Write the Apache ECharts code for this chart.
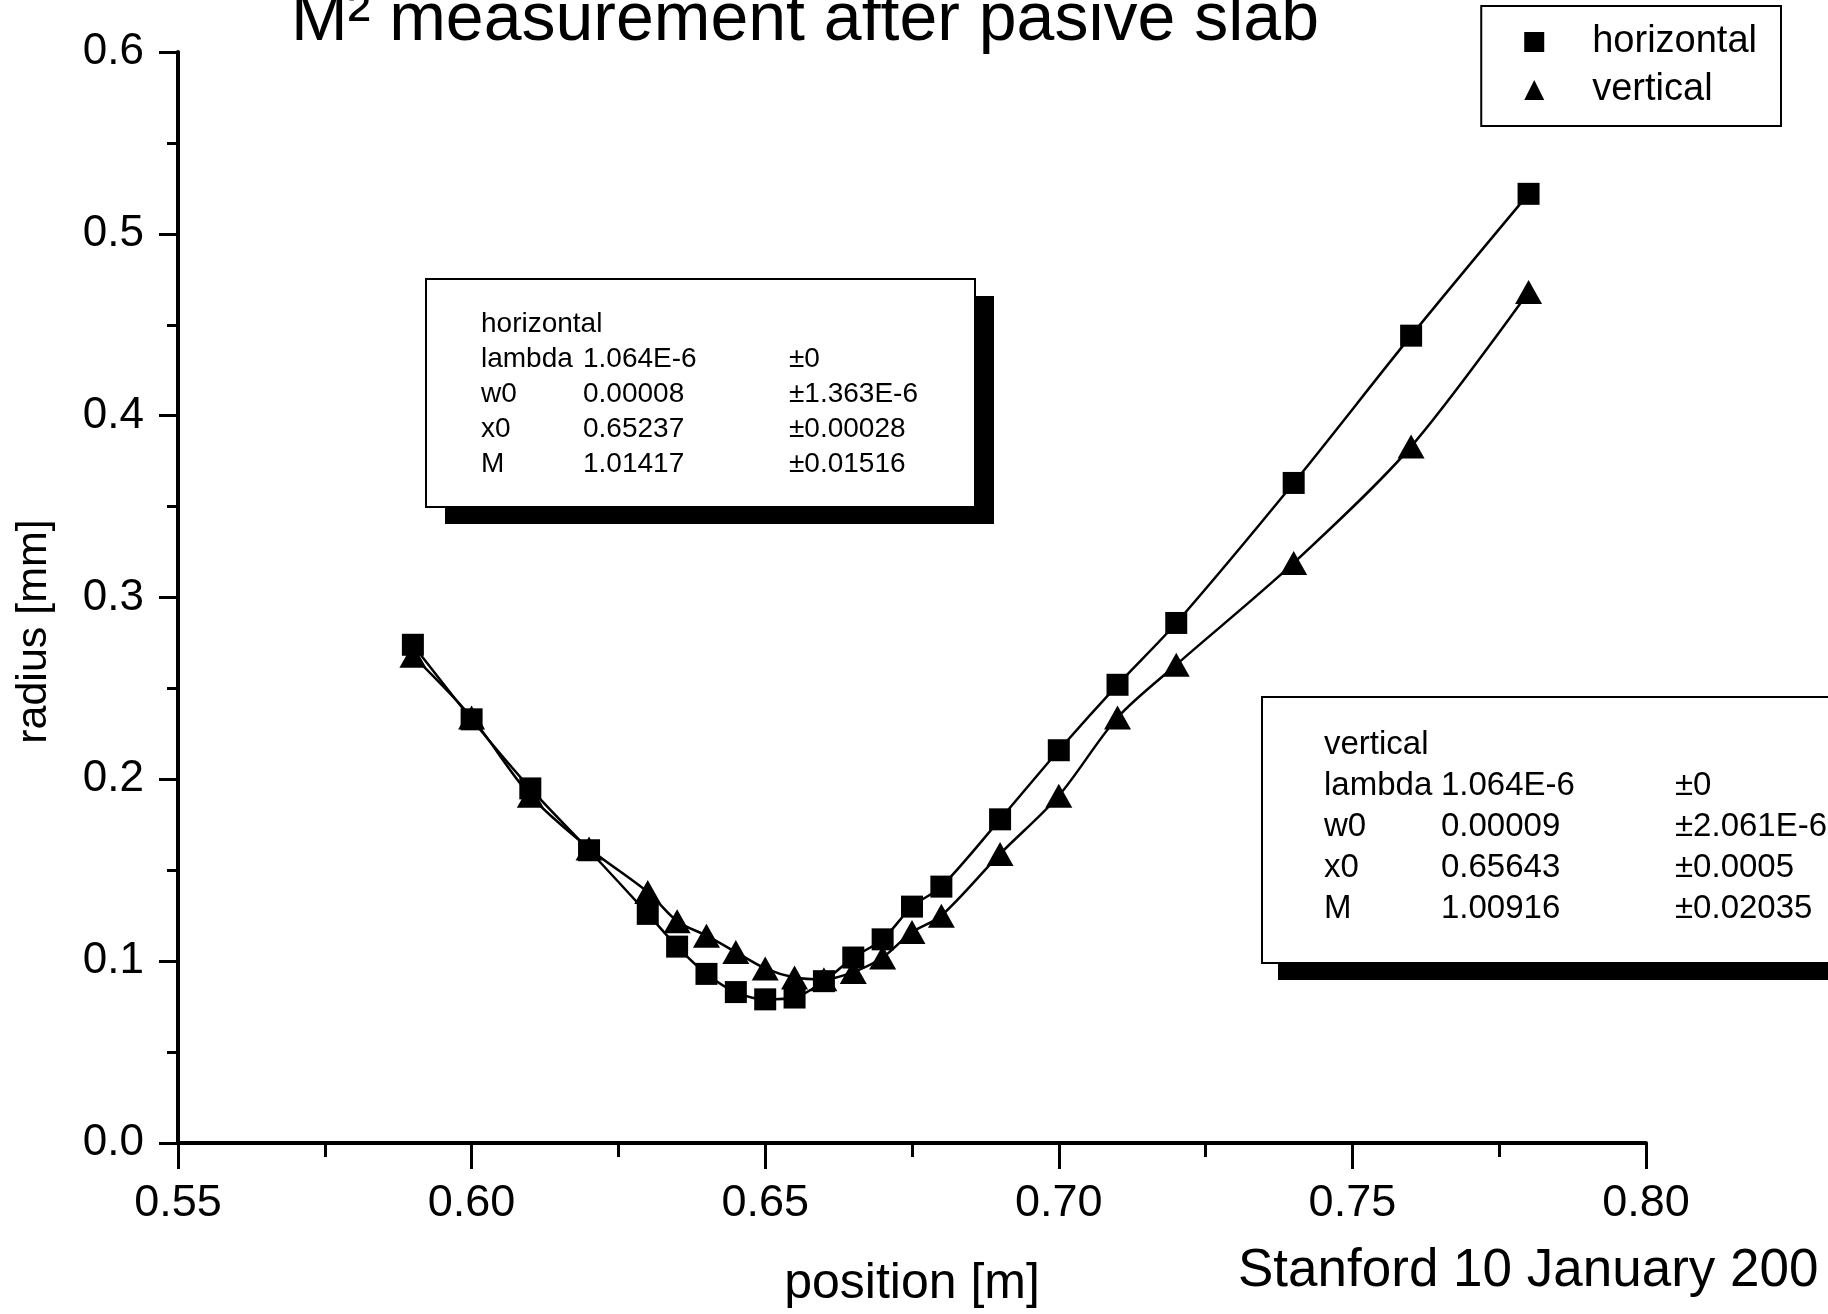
<!DOCTYPE html>
<html>
<head>
<meta charset="utf-8">
<title>M2 measurement after pasive slab</title>
<script src="https://cdn.jsdelivr.net/npm/echarts@6/dist/echarts.min.js"></script>
<style>
  html, body { margin: 0; padding: 0; background: #fff; }
  #chart { width: 1828px; height: 1314px; }
</style>
</head>
<body>
<div id="chart"></div>
<script>
// beam radius vs position
const positions = [0.59, 0.60, 0.61, 0.62, 0.63, 0.635, 0.64, 0.645, 0.65, 0.655, 0.66,
  0.665, 0.67, 0.675, 0.68, 0.69, 0.70, 0.71, 0.72, 0.74, 0.76, 0.78]
const horizontalRadius = [0.274, 0.233, 0.195, 0.161, 0.126, 0.108, 0.093, 0.083, 0.079, 0.080, 0.089,
  0.102, 0.112, 0.130, 0.141, 0.178, 0.216, 0.252, 0.286, 0.363, 0.444, 0.522]
const verticalRadius = [0.268, 0.234, 0.191, 0.162, 0.138, 0.122, 0.114, 0.105, 0.096, 0.091, 0.090,
  0.094, 0.102, 0.116, 0.125, 0.159, 0.191, 0.234, 0.263, 0.319, 0.383, 0.468]

// fit result tables
const fitHorizontal = [
  ['lambda', '1.064E-6', '±0'],
  ['w0', '0.00008', '±1.363E-6'],
  ['x0', '0.65237', '±0.00028'],
  ['M', '1.01417', '±0.01516']
]
const fitVertical = [
  ['lambda', '1.064E-6', '±0'],
  ['w0', '0.00009', '±2.061E-6'],
  ['x0', '0.65643', '±0.0005'],
  ['M', '1.00916', '±0.02035']
]

const FONT = '"Liberation Sans", Arial, sans-serif'

const pairs = (ys) => positions.map((x, i) => [x, ys[i]])

// a framed parameter box with a black drop shadow
const fitBox = (title, rows, box, cols, rowY, rowGap, fontSize) => {
  const children = [
    { type: 'rect', shape: { x: box.x + box.dx, y: box.y + box.dy, width: box.w, height: box.h },
      style: { fill: '#000' }, z: 1 },
    { type: 'rect', shape: { x: box.x, y: box.y, width: box.w, height: box.h },
      style: { fill: '#fff', stroke: '#000', lineWidth: 2 }, z: 2 },
    { type: 'text', x: cols[0], y: rowY, z: 3,
      style: { text: title, font: fontSize + 'px ' + FONT, fill: '#000', verticalAlign: 'middle' } }
  ]
  rows.forEach((r, i) => {
    r.forEach((t, j) => {
      children.push({ type: 'text', x: cols[j], y: rowY + (i + 1) * rowGap, z: 3,
        style: { text: t, font: fontSize + 'px ' + FONT, fill: '#000', verticalAlign: 'middle' } })
    })
  })
  return { type: 'group', children: children }
}

const chart = echarts.init(document.getElementById('chart'))

const axisLine = { lineStyle: { color: '#000', width: 4 } }

const option = {
  backgroundColor: '#fff',
  animation: false,
  title: {
    text: 'M² measurement after pasive slab',
    left: 291,
    top: -13,
    padding: 0,
    textStyle: { fontFamily: FONT, fontSize: 68, fontWeight: 'normal', color: '#000' }
  },
  legend: {
    orient: 'vertical',
    right: 47,
    top: 6,
    padding: [17, 24, 17, 43],
    borderColor: '#000',
    borderWidth: 2,
    itemWidth: 20,
    itemHeight: 20,
    itemGap: 10,
    data: [
      { name: 'horizontal', icon: 'rect' },
      { name: 'vertical', icon: 'triangle' }
    ],
    textStyle: { fontFamily: FONT, fontSize: 38, color: '#000', padding: [0, 0, 0, 43] }
  },
  grid: { left: 178, right: 182, top: 52, bottom: 170 },
  xAxis: {
    type: 'value',
    min: 0.55,
    max: 0.80,
    interval: 0.05,
    name: 'position [m]',
    nameLocation: 'middle',
    nameGap: 116,
    nameTextStyle: { fontFamily: FONT, fontSize: 50, color: '#000' },
    axisLine: axisLine,
    axisTick: { show: true, length: 26, lineStyle: { color: '#000', width: 3 } },
    minorTick: { show: true, splitNumber: 2, length: 14, lineStyle: { color: '#000', width: 3 } },
    splitLine: { show: false },
    axisLabel: {
      margin: 38,
      fontFamily: FONT,
      fontSize: 45,
      color: '#000',
      formatter: (v) => v.toFixed(2)
    }
  },
  yAxis: {
    type: 'value',
    min: 0,
    max: 0.6,
    interval: 0.1,
    name: 'radius [mm]',
    nameLocation: 'middle',
    nameGap: 122,
    nameTextStyle: { fontFamily: FONT, fontSize: 43, color: '#000', padding: [0, 68, 0, 0] },
    axisLine: axisLine,
    axisTick: { show: true, length: 19, lineStyle: { color: '#000', width: 3 } },
    minorTick: { show: true, splitNumber: 2, length: 11, lineStyle: { color: '#000', width: 3 } },
    splitLine: { show: false },
    axisLabel: {
      margin: 34,
      fontFamily: FONT,
      fontSize: 44,
      color: '#000',
      formatter: (v) => v.toFixed(1)
    }
  },
  series: [
    {
      name: 'horizontal',
      type: 'line',
      data: pairs(horizontalRadius),
      smooth: 0.3,
      symbol: 'rect',
      symbolSize: 22,
      itemStyle: { color: '#000' },
      lineStyle: { color: '#000', width: 2.5 }
    },
    {
      name: 'vertical',
      type: 'line',
      data: pairs(verticalRadius),
      smooth: 0.3,
      symbol: 'triangle',
      symbolSize: [27, 24],
      itemStyle: { color: '#000' },
      lineStyle: { color: '#000', width: 2.5 }
    }
  ],
  graphic: [
    fitBox('horizontal', fitHorizontal,
      { x: 426, y: 279, w: 549, h: 228, dx: 19, dy: 17 },
      [481, 583, 789], 324, 35, 28),
    fitBox('vertical', fitVertical,
      { x: 1262, y: 697, w: 620, h: 266, dx: 16, dy: 17 },
      [1324, 1441, 1675], 745, 41, 33),
    {
      type: 'text', x: 1238, y: 1271, z: 3,
      style: { text: 'Stanford 10 January 200', font: '53px ' + FONT, fill: '#000', verticalAlign: 'middle' }
    }
  ]
}

chart.setOption(option)
</script>
</body>
</html>
